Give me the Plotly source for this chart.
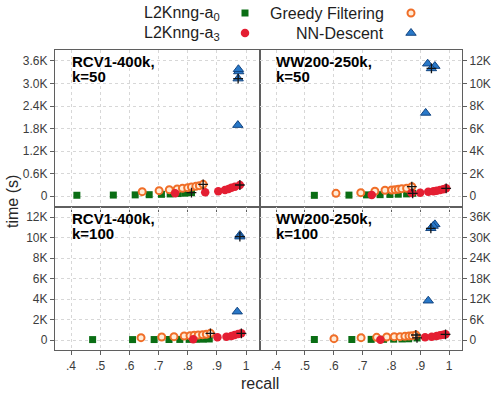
import plotly.graph_objects as go

# ---------------- data ----------------
panel_titles = [("RCV1-400k,", "k=50"), ("WW200-250k,", "k=50"),
                ("RCV1-400k,", "k=100"), ("WW200-250k,", "k=100")]

# panel 1: RCV1-400k, k=50
p1_a0_x = [0.42, 0.545, 0.62, 0.668, 0.71, 0.74, 0.767, 0.79, 0.813]
p1_a0_y = [20, 25, 30, 35, 45, 55, 65, 75, 90]
p1_gf_x = [0.644, 0.702, 0.737, 0.764, 0.782, 0.80, 0.813, 0.828, 0.84, 0.853]
p1_gf_y = [116, 142, 169, 187, 204, 222, 240, 258, 276, 311]
p1_a3_x = [0.757, 0.86, 0.905, 0.928, 0.94, 0.95, 0.962, 0.979]
p1_a3_y = [72, 98, 125, 160, 187, 222, 249, 293]
p1_nn_x = [0.972, 0.973, 0.975, 0.974]
p1_nn_y = [1890, 3130, 3320, 3380]
p1_def_x = [0.813, 0.853, 0.979, 0.973]
p1_def_y = [90, 311, 293, 3130]

# panel 2: WW200-250k, k=50
p2_a0_x = [0.533, 0.653, 0.714, 0.761, 0.795, 0.824, 0.853, 0.874]
p2_a0_y = [60, 80, 100, 120, 140, 160, 190, 240]
p2_gf_x = [0.608, 0.694, 0.743, 0.778, 0.801, 0.813, 0.824, 0.836, 0.853, 0.871]
p2_gf_y = [240, 295, 420, 509, 536, 565, 595, 655, 685, 830]
p2_a3_x = [0.732, 0.87, 0.90, 0.928, 0.946, 0.957, 0.969, 0.98, 0.99]
p2_a3_y = [90, 260, 295, 387, 420, 475, 536, 595, 685]
p2_nn_x = [0.926, 0.951, 0.939, 0.919]
p2_nn_y = [11760, 11545, 11340, 7383]
p2_def_x = [0.874, 0.871, 0.99, 0.939]
p2_def_y = [240, 830, 685, 11340]

# panel 3: RCV1-400k, k=100
p3_a0_x = [0.474, 0.611, 0.685, 0.736, 0.773, 0.805, 0.83, 0.853, 0.874]
p3_a0_y = [40, 40, 45, 50, 55, 60, 70, 80, 100]
p3_gf_x = [0.64, 0.711, 0.753, 0.788, 0.808, 0.822, 0.836, 0.851, 0.864, 0.878]
p3_gf_y = [228, 293, 325, 390, 423, 455, 488, 520, 553, 650]
p3_a3_x = [0.819, 0.902, 0.933, 0.95, 0.961, 0.973, 0.984]
p3_a3_y = [65, 260, 325, 390, 488, 585, 650]
p3_nn_x = [0.979, 0.979, 0.97]
p3_nn_y = [10244, 10081, 2764]
p3_def_x = [0.878, 0.984, 0.979]
p3_def_y = [650, 650, 10081]

# panel 4: WW200-250k, k=100
p4_a0_x = [0.533, 0.663, 0.73, 0.773, 0.808, 0.837, 0.86, 0.889]
p4_a0_y = [150, 150, 180, 200, 250, 300, 350, 600]
p4_gf_x = [0.601, 0.695, 0.749, 0.784, 0.81, 0.83, 0.847, 0.861, 0.872, 0.885]
p4_gf_y = [390, 683, 780, 878, 975, 975, 1073, 1170, 1268, 1463]
p4_a3_x = [0.762, 0.917, 0.94, 0.957, 0.969, 0.98, 0.988]
p4_a3_y = [50, 780, 975, 1170, 1366, 1561, 1659]
p4_nn_x = [0.951, 0.945, 0.937, 0.928]
p4_nn_y = [33850, 33370, 32700, 11500]
p4_def_x = [0.889, 0.885, 0.988, 0.937]
p4_def_y = [600, 1463, 1659, 32700]

x_tickvals = [0.4, 0.5, 0.6, 0.7, 0.8, 0.9, 1.0]
x_ticktext = [".4", ".5", ".6", ".7", ".8", ".9", "1"]
y1_tickvals = [0, 600, 1200, 1800, 2400, 3000, 3600]
y1_ticktext = ["0", "0.6K", "1.2K", "1.8K", "2.4K", "3.0K", "3.6K"]
y2_tickvals = [0, 2000, 4000, 6000, 8000, 10000, 12000]
y2_ticktext = ["0", "2K", "4K", "6K", "8K", "10K", "12K"]
y4_tickvals = [0, 6000, 12000, 18000, 24000, 30000, 36000]
y4_ticktext = ["0", "6K", "12K", "18K", "24K", "30K", "36K"]

legend_names = ["L2Knng-a<sub>0</sub>", "L2Knng-a<sub>3</sub>", "Greedy Filtering", "NN-Descent"]

# ---------------- styles ----------------
C_A0 = "rgb(10,110,20)"
C_A3 = "rgb(228,30,50)"
C_GF = "rgb(240,110,40)"
C_NN = "rgb(40,120,200)"
FONT = "Liberation Sans, Arial, sans-serif"
FRAME = "rgb(95,95,95)"

st_a0 = dict(symbol="square", size=7, color=C_A0)
st_a3 = dict(symbol="circle", size=8.5, color=C_A3)
st_gf = dict(symbol="circle", size=7, color="rgb(255,235,215)", line=dict(color=C_GF, width=2))
st_nn = dict(symbol="triangle-up", size=9, color=C_NN, line=dict(color="rgb(20,70,130)", width=1))
st_def = dict(symbol="cross-thin", size=7, color="black", line=dict(color="rgb(20,20,20)", width=1.3))

fig = go.Figure()

panels = [
    (p1_a0_x, p1_a0_y, p1_gf_x, p1_gf_y, p1_a3_x, p1_a3_y, p1_nn_x, p1_nn_y, p1_def_x, p1_def_y),
    (p2_a0_x, p2_a0_y, p2_gf_x, p2_gf_y, p2_a3_x, p2_a3_y, p2_nn_x, p2_nn_y, p2_def_x, p2_def_y),
    (p3_a0_x, p3_a0_y, p3_gf_x, p3_gf_y, p3_a3_x, p3_a3_y, p3_nn_x, p3_nn_y, p3_def_x, p3_def_y),
    (p4_a0_x, p4_a0_y, p4_gf_x, p4_gf_y, p4_a3_x, p4_a3_y, p4_nn_x, p4_nn_y, p4_def_x, p4_def_y),
]

for i, (a0x, a0y, gfx, gfy, a3x, a3y, nnx, nny, dx, dy) in enumerate(panels):
    xa = "x" if i == 0 else f"x{i+1}"
    ya = "y" if i == 0 else f"y{i+1}"
    for xs, ys, st in [(a0x, a0y, st_a0), (gfx, gfy, st_gf), (a3x, a3y, st_a3),
                       (nnx, nny, st_nn), (dx, dy, st_def)]:
        fig.add_trace(go.Scatter(x=xs, y=ys, mode="markers", marker=st,
                                 xaxis=xa, yaxis=ya, showlegend=False, hoverinfo="skip"))

# legend markers on a hidden pixel-like axis
leg_marker_x = [245, 245, 411, 411]
leg_marker_y = [13, 33, 13, 33]
for mx, my, st in zip(leg_marker_x, leg_marker_y, [st_a0, st_a3, st_gf, st_nn]):
    fig.add_trace(go.Scatter(x=[mx], y=[my], mode="markers", marker=st,
                             xaxis="x5", yaxis="y5", showlegend=False, hoverinfo="skip"))

leg_text_x = [222, 222, 386, 386]
for name, tx, ty in zip(legend_names, leg_text_x, leg_marker_y):
    fig.add_annotation(x=tx, y=ty, xref="x5", yref="y5", text=name, showarrow=False,
                       xanchor="right", yanchor="middle", font=dict(size=16, color="rgb(30,30,30)", family=FONT))

# ---------------- layout ----------------
W, H = 500, 393
ml, mr, mt, mb = 55, 38, 0, 43
ph = H - mt - mb  # 350
xsplit = (260 - ml) / (W - ml - mr)
ysplit = (350 - 207) / ph
ytop = (350 - 50) / ph

grid = dict(showgrid=True, gridcolor="rgb(215,215,215)", griddash="dot", gridwidth=1, zeroline=False)
line = dict(showline=True, linecolor=FRAME, linewidth=1.2, mirror=True)
tickfont = dict(size=12, color="rgb(60,60,60)", family=FONT)

xr_l = [0.345, 1.048]
xr_r = [0.3445, 1.045]

common_x = dict(tickvals=x_tickvals, ticktext=x_ticktext, ticks="outside", ticklen=4,
                tickcolor=FRAME, tickfont=tickfont, **grid, **line)
common_y = dict(ticks="outside", ticklen=4, tickcolor=FRAME, tickfont=tickfont, **grid, **line)

fig.update_layout(
    width=W, height=H, margin=dict(l=ml, r=mr, t=mt, b=mb),
    paper_bgcolor="white", plot_bgcolor="white", showlegend=False,
    font=dict(family=FONT),
    xaxis=dict(domain=[0, xsplit], range=xr_l, anchor="y", showticklabels=False, **common_x),
    xaxis2=dict(domain=[xsplit, 1], range=xr_r, anchor="y2", showticklabels=False, **common_x),
    xaxis3=dict(domain=[0, xsplit], range=xr_l, anchor="y3", **common_x),
    xaxis4=dict(domain=[xsplit, 1], range=xr_r, anchor="y4", **common_x),
    yaxis=dict(domain=[ysplit, ytop], range=[-293, 3893], anchor="x", tickvals=y1_tickvals,
               ticktext=y1_ticktext, **common_y),
    yaxis2=dict(domain=[ysplit, ytop], range=[-977, 12977], anchor="x2", side="right", tickvals=y2_tickvals,
                ticktext=y2_ticktext, **common_y),
    yaxis3=dict(domain=[0, ysplit], range=[-976, 12976], anchor="x3", tickvals=y2_tickvals,
                ticktext=y2_ticktext, **common_y),
    yaxis4=dict(domain=[0, ysplit], range=[-2928, 38928], anchor="x4", side="right", tickvals=y4_tickvals,
                ticktext=y4_ticktext, **common_y),
    xaxis5=dict(domain=[0, 1], range=[ml, W - mr], anchor="y5", visible=False, fixedrange=True),
    yaxis5=dict(domain=[(350 - 45) / ph, 1], range=[45, 0], anchor="x5", visible=False, fixedrange=True),
)

# panel titles
for i, (l1, l2) in enumerate(panel_titles):
    xr = "x domain" if i == 0 else f"x{i+1} domain"
    yr = "y domain" if i == 0 else f"y{i+1} domain"
    xoff = 0.073 if i % 2 == 0 else 0.069
    for txt, ys in [(l1, -11.5), (l2, -26)]:
        fig.add_annotation(x=xoff, y=1, xref=xr, yref=yr, yshift=ys, text=f"<b>{txt}</b>", showarrow=False,
                           xanchor="left", yanchor="middle", font=dict(size=15, color="black", family=FONT))

# axis titles
fig.add_annotation(x=(12 - ml) / (W - ml - mr), y=(350 - 202) / ph, xref="paper", yref="paper", text="time (s)",
                   textangle=-90, showarrow=False, xanchor="center", yanchor="middle",
                   font=dict(size=16, color="rgb(40,40,40)", family=FONT))
fig.add_annotation(x=(260 - ml) / (W - ml - mr), y=0, yshift=-33, xref="paper", yref="paper", text="recall",
                   showarrow=False, xanchor="center", yanchor="middle", font=dict(size=16, color="rgb(40,40,40)", family=FONT))

fig.write_html("out.html")
